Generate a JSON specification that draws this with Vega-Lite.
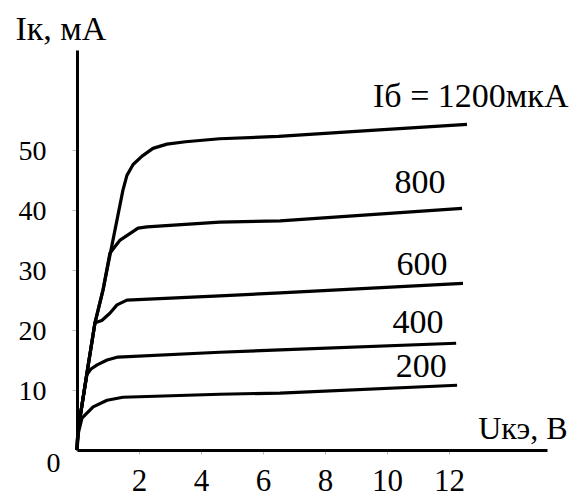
{
  "$schema": "https://vega.github.io/schema/vega-lite/v6.json",
  "width": 470,
  "height": 400,
  "autosize": "none",
  "padding": {"left": 77, "top": 50, "right": 28, "bottom": 49},
  "background": "white",
  "config": {
    "view": {"stroke": null},
    "font": "Liberation Serif"
  },
  "datasets": {
    "curves": [
      {"ib": 1200, "u": 0, "I": 0},
      {"ib": 1200, "u": 0.03, "I": 3.3},
      {"ib": 1200, "u": 0.1, "I": 5.5},
      {"ib": 1200, "u": 0.32, "I": 12.8},
      {"ib": 1200, "u": 0.58, "I": 21.2},
      {"ib": 1200, "u": 0.84, "I": 26.7},
      {"ib": 1200, "u": 1.16, "I": 35},
      {"ib": 1200, "u": 1.48, "I": 43.3},
      {"ib": 1200, "u": 1.61, "I": 45.8},
      {"ib": 1200, "u": 1.81, "I": 47.6},
      {"ib": 1200, "u": 2.1, "I": 49.0},
      {"ib": 1200, "u": 2.45, "I": 50.3},
      {"ib": 1200, "u": 2.9, "I": 51.0},
      {"ib": 1200, "u": 3.5, "I": 51.4},
      {"ib": 1200, "u": 4.6, "I": 51.9},
      {"ib": 1200, "u": 6.5, "I": 52.3},
      {"ib": 1200, "u": 9.5, "I": 53.3},
      {"ib": 1200, "u": 12.58, "I": 54.3},
      {"ib": 800, "u": 0, "I": 0},
      {"ib": 800, "u": 0.03, "I": 3.3},
      {"ib": 800, "u": 0.1, "I": 5.5},
      {"ib": 800, "u": 0.32, "I": 12.8},
      {"ib": 800, "u": 0.58, "I": 21.2},
      {"ib": 800, "u": 0.84, "I": 26.7},
      {"ib": 800, "u": 1.06, "I": 32.8},
      {"ib": 800, "u": 1.39, "I": 35},
      {"ib": 800, "u": 1.97, "I": 37},
      {"ib": 800, "u": 2.26, "I": 37.2},
      {"ib": 800, "u": 4.6, "I": 38},
      {"ib": 800, "u": 6.55, "I": 38.2},
      {"ib": 800, "u": 12.42, "I": 40.3},
      {"ib": 600, "u": 0, "I": 0},
      {"ib": 600, "u": 0.03, "I": 3.3},
      {"ib": 600, "u": 0.1, "I": 5.5},
      {"ib": 600, "u": 0.32, "I": 12.8},
      {"ib": 600, "u": 0.58, "I": 21.2},
      {"ib": 600, "u": 0.8, "I": 21.6},
      {"ib": 600, "u": 1.06, "I": 22.8},
      {"ib": 600, "u": 1.29, "I": 24.2},
      {"ib": 600, "u": 1.61, "I": 25},
      {"ib": 600, "u": 4.6, "I": 25.7},
      {"ib": 600, "u": 6.55, "I": 26.2},
      {"ib": 600, "u": 12.45, "I": 27.8},
      {"ib": 400, "u": 0, "I": 0},
      {"ib": 400, "u": 0.03, "I": 3.3},
      {"ib": 400, "u": 0.1, "I": 5.5},
      {"ib": 400, "u": 0.32, "I": 12.6},
      {"ib": 400, "u": 0.45, "I": 13.5},
      {"ib": 400, "u": 0.65, "I": 14.2},
      {"ib": 400, "u": 0.97, "I": 15},
      {"ib": 400, "u": 1.32, "I": 15.5},
      {"ib": 400, "u": 4.6, "I": 16.3},
      {"ib": 400, "u": 6.55, "I": 16.7},
      {"ib": 400, "u": 12.23, "I": 17.8},
      {"ib": 200, "u": 0, "I": 0},
      {"ib": 200, "u": 0.05, "I": 3},
      {"ib": 200, "u": 0.16, "I": 5.3},
      {"ib": 200, "u": 0.52, "I": 7.2},
      {"ib": 200, "u": 0.97, "I": 8.3},
      {"ib": 200, "u": 1.48, "I": 8.8},
      {"ib": 200, "u": 4.6, "I": 9.3},
      {"ib": 200, "u": 6.55, "I": 9.5},
      {"ib": 200, "u": 12.26, "I": 10.8}
    ],
    "labels": [
      {"text": "Iб = 1200мкА", "u": 12.7, "I": 58.8},
      {"text": "800", "u": 11.06, "I": 44.5},
      {"text": "600", "u": 11.13, "I": 30.8},
      {"text": "400", "u": 11.0, "I": 21.2},
      {"text": "200", "u": 11.1, "I": 13.8}
    ]
  },
  "layer": [
    {
      "data": {"name": "curves"},
      "mark": {"type": "line", "color": "black", "strokeWidth": 3.2, "interpolate": "linear", "strokeJoin": "round", "clip": false},
      "encoding": {
        "x": {
          "field": "u", "type": "quantitative",
          "scale": {"domain": [0, 15.16], "nice": false, "zero": false},
          "axis": {
            "values": [2, 4, 6, 8, 10, 12],
            "grid": false,
            "domainColor": "black", "domainWidth": 3,
            "tickColor": "#bbbbbb", "tickSize": 4, "tickWidth": 1,
            "labelFont": "Liberation Serif", "labelFontSize": 31, "labelColor": "black",
            "labelPadding": 12, "labelFlush": false,
            "title": "Uкэ, В",
            "titleFont": "Liberation Serif", "titleFontSize": 32, "titleFontWeight": "normal", "titleColor": "black",
            "titleAlign": "right", "titleBaseline": "alphabetic", "titleX": 490, "titleY": -12
          }
        },
        "y": {
          "field": "I", "type": "quantitative",
          "scale": {"domain": [0, 66.7], "nice": false, "zero": false},
          "axis": {
            "values": [0, 10, 20, 30, 40, 50],
            "grid": false,
            "domainColor": "black", "domainWidth": 3,
            "tickColor": "#bbbbbb", "tickSize": 5, "tickWidth": 1,
            "tickOpacity": {"condition": {"test": "datum.value == 0", "value": 0}, "value": 1},
            "labelFont": "Liberation Serif", "labelFontSize": 28, "labelColor": "black",
            "labelPadding": {"condition": {"test": "datum.value == 0", "value": 12}, "value": 26},
            "labelOffset": {"condition": {"test": "datum.value == 0", "value": 13}, "value": 1},
            "labelFlush": false,
            "title": "Iк, мА",
            "titleFont": "Liberation Serif", "titleFontSize": 34, "titleFontWeight": "normal", "titleColor": "black",
            "titleAngle": 0, "titleAlign": "left", "titleBaseline": "alphabetic", "titleX": -62, "titleY": -11
          }
        },
        "detail": {"field": "ib", "type": "nominal"}
      }
    },
    {
      "data": {"name": "labels"},
      "mark": {"type": "text", "font": "Liberation Serif", "fontSize": 34, "color": "black", "align": "center", "baseline": "middle", "clip": false},
      "encoding": {
        "x": {"field": "u", "type": "quantitative"},
        "y": {"field": "I", "type": "quantitative"},
        "text": {"field": "text", "type": "nominal"}
      }
    }
  ]
}
